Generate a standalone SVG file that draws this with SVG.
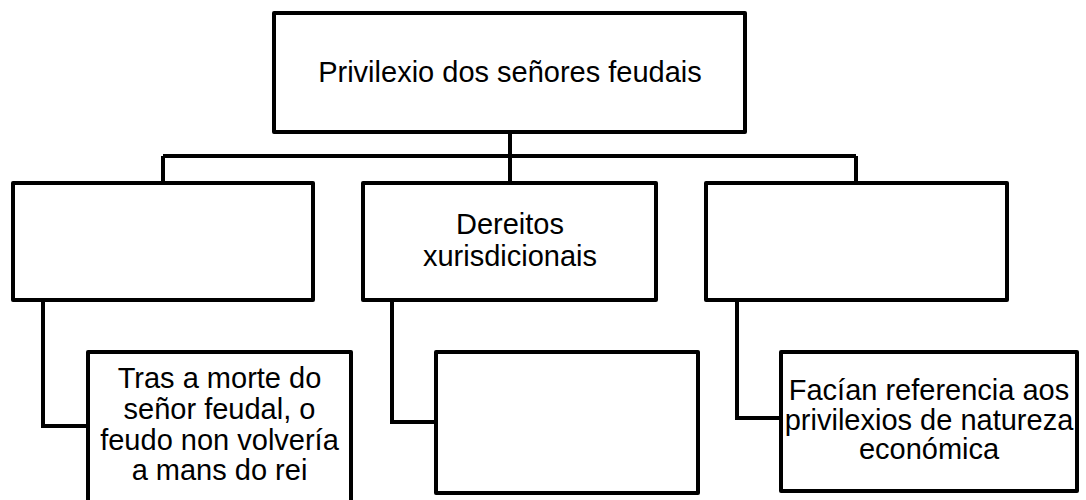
<svg xmlns="http://www.w3.org/2000/svg" width="1086" height="500" viewBox="0 0 1086 500">
<style>
.box{fill:#fff;stroke:#000;stroke-width:4;stroke-linejoin:round}
.ln{fill:none;stroke:#000;stroke-width:4;stroke-linejoin:miter}
text{font-family:"Liberation Sans",Arial,sans-serif;font-size:29px;fill:#000;text-anchor:middle}
</style>
<rect width="1086" height="500" fill="#fff"/>
<g id="connectors">
<path class="ln" d="M510 132V183"/>
<path class="ln" d="M163 156H856"/>
<path class="ln" d="M163 156V183M856 156V183"/>
<path class="ln" d="M43 300V426H88"/>
<path class="ln" d="M392 300V422H436"/>
<path class="ln" d="M737 300V418H781"/>
</g>
<g id="root">
<rect class="box" x="274" y="13" width="471" height="119"/>
<text x="510" y="82">Privilexio dos señores feudais</text>
</g>
<g id="left">
<rect class="box" x="13" y="183" width="300" height="117"/>
</g>
<g id="middle">
<rect class="box" x="363" y="183" width="293" height="117"/>
<text x="510" y="234">Dereitos</text>
<text x="510" y="266">xurisdicionais</text>
</g>
<g id="right">
<rect class="box" x="706" y="183" width="301" height="117"/>
</g>
<g id="left-child">
<rect class="box" x="88" y="352" width="263" height="152"/>
<text x="219.5" y="388">Tras a morte do</text>
<text x="219.5" y="419">señor feudal, o</text>
<text x="219.5" y="450">feudo non volvería</text>
<text x="219.5" y="480">a mans do rei</text>
</g>
<g id="middle-child">
<rect class="box" x="436" y="352" width="262" height="141"/>
</g>
<g id="right-child">
<rect class="box" x="781" y="352" width="296" height="139"/>
<text x="929" y="400">Facían referencia aos</text>
<text x="929" y="430">privilexios de natureza</text>
<text x="929" y="459">económica</text>
</g>
</svg>
